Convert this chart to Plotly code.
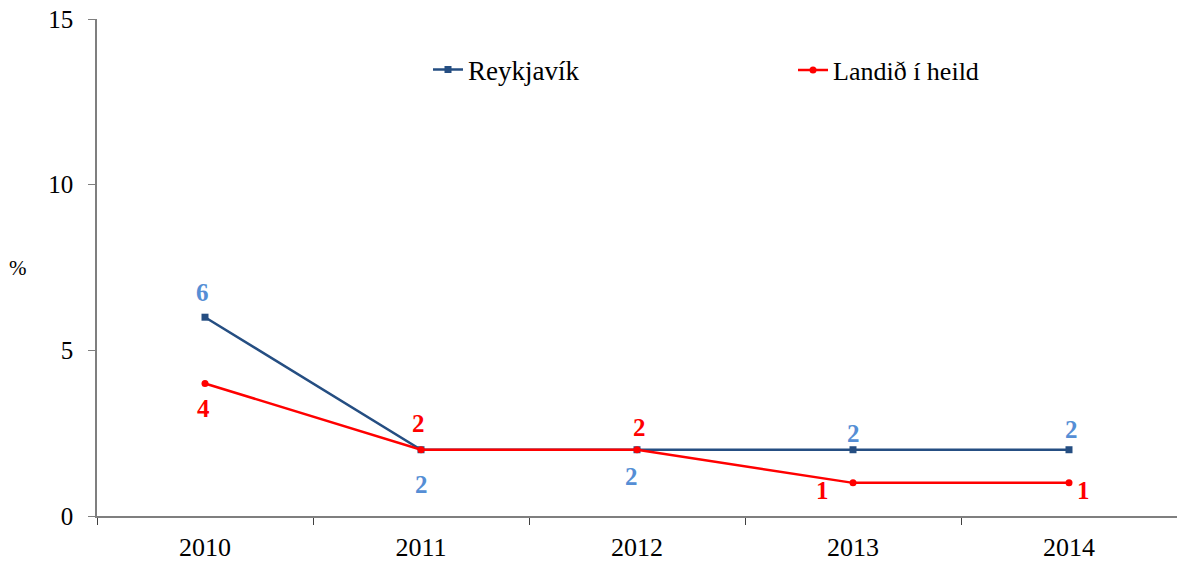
import plotly.graph_objects as go

years = ["2010", "2011", "2012", "2013", "2014"]
reykjavik = [6, 2, 2, 2, 2]
landid = [4, 2, 2, 1, 1]

# label offsets (px) for data labels: (dx, dy)
rvk_off = [(-3, -25), (0, 35), (-6, 27), (0, -16), (2, -20)]
lnd_off = [(-2, 25), (-3, -26), (2, -22), (-31, 8), (14, 8)]

FONT = "Liberation Serif, Times New Roman, serif"
BLUE = "#254E82"
LBLUE = "#558ED5"
RED = "#FF0000"

W, H = 1177, 564
L, T, B = 97, 19, 48
PW, PH = W - L, H - T - B

fig = go.Figure()
fig.add_trace(go.Scatter(x=years, y=reykjavik, name="Reykjavík", mode="lines+markers",
                         line=dict(color=BLUE, width=2.5),
                         marker=dict(symbol="square", size=7, color=BLUE),
                         legend="legend", showlegend=True))
fig.add_trace(go.Scatter(x=years, y=landid, name="Landið í heild", mode="lines+markers",
                         line=dict(color=RED, width=2.5),
                         marker=dict(symbol="circle", size=7, color=RED),
                         legend="legend2", showlegend=True))

anns = []
for i, (v, (dx, dy)) in enumerate(zip(reykjavik, rvk_off)):
    anns.append(dict(x=i, y=v, xref="x", yref="y", text=f"<b>{v}</b>", showarrow=False,
                     xshift=dx, yshift=-dy, font=dict(family=FONT, size=25, color=LBLUE)))
for i, (v, (dx, dy)) in enumerate(zip(landid, lnd_off)):
    anns.append(dict(x=i, y=v, xref="x", yref="y", text=f"<b>{v}</b>", showarrow=False,
                     xshift=dx, yshift=-dy, font=dict(family=FONT, size=25, color=RED)))
anns.append(dict(x=(18 - L) / PW, y=(516 - 268) / PH, xref="paper", yref="paper",
                 text="%", showarrow=False, xanchor="center", yanchor="middle",
                 font=dict(family=FONT, size=21, color="black")))

fig.update_layout(
    width=W, height=H,
    margin=dict(l=L, r=0, t=T, b=B, autoexpand=False),
    plot_bgcolor="white", paper_bgcolor="white",
    font=dict(family=FONT, size=25, color="black"),
    annotations=anns,
    showlegend=True,
    legend=dict(x=(428 - L) / PW, y=(516 - 70) / PH, xanchor="left", yanchor="middle",
                bgcolor="rgba(0,0,0,0)", font=dict(family=FONT, size=27)),
    legend2=dict(x=(793 - L) / PW, y=(516 - 70) / PH, xanchor="left", yanchor="middle",
                 bgcolor="rgba(0,0,0,0)", font=dict(family=FONT, size=26)),
    xaxis=dict(type="category", range=[-0.5, 4.5], showgrid=False, showline=True,
               linecolor="#7F7F7F", linewidth=1.5, ticks="outside", tickson="boundaries",
               ticklen=7, tickcolor="#404040", tickfont=dict(family=FONT, size=26),
               ticklabelstandoff=7, zeroline=False, automargin=False,
               ticklabeloverflow="allow"),
    yaxis=dict(range=[0, 15], tickvals=[0, 5, 10, 15], showgrid=False, showline=True,
               linecolor="#7F7F7F", linewidth=1.5, ticks="outside", ticklen=7,
               tickcolor="#7F7F7F", tickfont=dict(family=FONT, size=25),
               ticklabelstandoff=10, zeroline=False, automargin=False,
               ticklabeloverflow="allow"),
)
fig.write_html("out.html", config={"displayModeBar": False},
               post_script="document.body.style.margin='0';document.body.style.overflow='hidden';")
